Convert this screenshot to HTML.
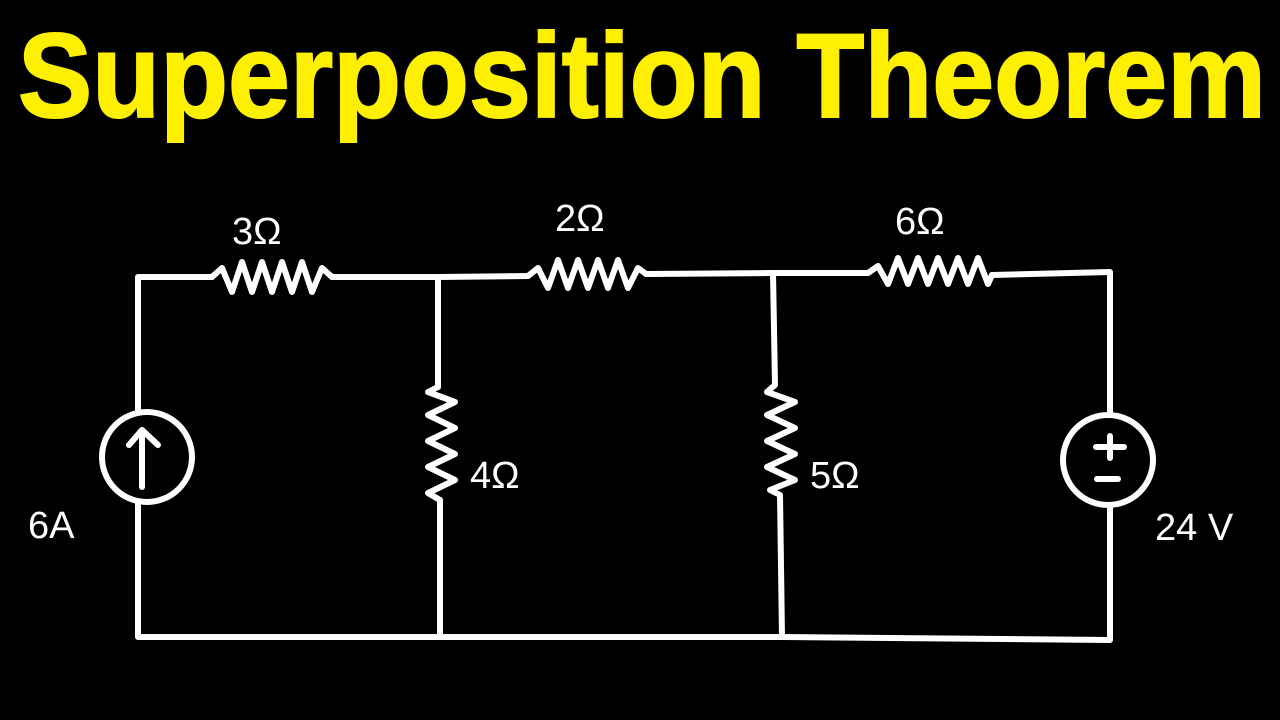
<!DOCTYPE html>
<html><head><meta charset="utf-8"><style>
html,body{margin:0;padding:0;background:#000;width:1280px;height:720px;overflow:hidden}
</style></head><body>
<svg width="1280" height="720" viewBox="0 0 1280 720" xmlns="http://www.w3.org/2000/svg">
<rect width="1280" height="720" fill="#000"/>
<text x="18" y="117" font-family="Liberation Sans, sans-serif" font-weight="bold" font-size="120" fill="#ffef00" stroke="#ffef00" stroke-width="2" textLength="1248" lengthAdjust="spacingAndGlyphs">Superposition Theorem</text>
<g stroke="#fff" stroke-width="6" fill="none" stroke-linejoin="round" stroke-linecap="round">
<path d="M138 410 L138 277 L212 277"/>
<path d="M212 277 L222 268 L232 292 L242 262 L252 292 L262 262 L272 292 L282 262 L292 292 L302 262 L312 292 L322 268 L332 277"/>
<path d="M332 277 L438 277 L528 276"/>
<path d="M528 276 L538 268 L548 288 L558 260 L568 288 L578 260 L588 288 L598 260 L608 288 L618 260 L628 288 L638 268 L646 274"/>
<path d="M646 274 L773 273 L868 273"/>
<path d="M868 273 L878 266 L888 284 L898 258 L908 284 L918 258 L928 284 L938 258 L948 284 L958 258 L968 284 L978 258 L988 284 L992 275"/>
<path d="M992 275 L1110 272 L1110 415"/>
<circle cx="147" cy="457" r="45"/>
<path d="M142 487 L142 430 M129 445 L142 430 L158 445"/>
<path d="M138 503 L138 637 L438 637 L782 637 L1110 640 L1110 505"/>
<path d="M438 277 L438 387 L428 392 L455 402 L428 415 L455 428 L428 441 L455 454 L428 467 L455 480 L428 493 L440 500 L440 637"/>
<path d="M773 273 L775 385 L767 392 L795 402 L767 415 L795 428 L767 441 L795 454 L767 467 L795 480 L770 490 L780 495 L782 637"/>
<circle cx="1108" cy="460" r="45"/>
<path d="M1096 447 L1124 447 M1110 436 L1110 458 M1097 479 L1118 479"/>
</g>
<g font-family="Liberation Sans, sans-serif" fill="#fff" font-size="38">
<text x="232" y="244">3&#937;</text>
<text x="555" y="231">2&#937;</text>
<text x="895" y="234">6&#937;</text>
<text x="470" y="488">4&#937;</text>
<text x="810" y="488">5&#937;</text>
<text x="28" y="538">6A</text>
<text x="1155" y="540">24 V</text>
</g>
</svg>
</body></html>
